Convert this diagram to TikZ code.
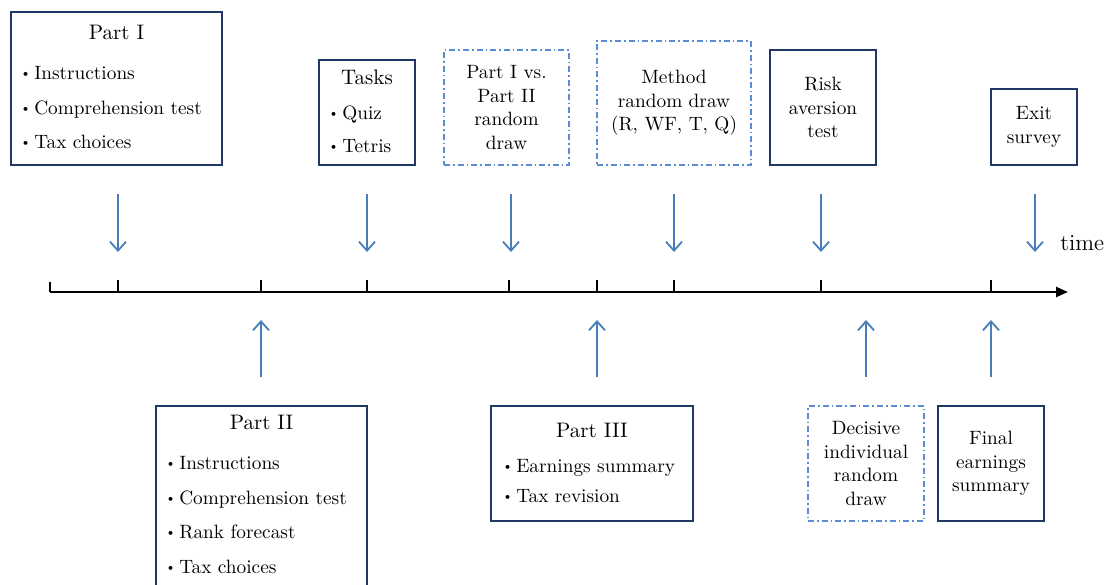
\documentclass[tikz,border=0pt]{standalone}
\usepackage{graphicx}
\usetikzlibrary{arrows.meta}
\definecolor{navy}{HTML}{203864}
\definecolor{arrblue}{HTML}{4A7EBB}
\definecolor{dashblue}{HTML}{5B8DD6}
\newcommand{\mybul}{\raisebox{0.7pt}{\scalebox{0.7}{\textbullet}}\hspace{1.7pt}}
\tikzset{
  every node/.style={font=\fontsize{9.65}{11.75}\selectfont, inner sep=0pt},
  box/.style={draw=navy, line width=0.9pt, align=center},
  dbox/.style={draw=dashblue, line width=0.8pt, align=center,
    dash pattern=on 3pt off 1.5pt on 0.8pt off 1.5pt},
  txt/.style={anchor=base west},
  ttl/.style={anchor=base, font=\fontsize{10.5}{12.5}\selectfont},
  darr/.style={draw=arrblue, line width=0.9pt, -{Straight Barb[length=4.5pt,width=8pt,line width=0.9pt]}},
  tick/.style={draw=black, line width=0.9pt},
}
\begin{document}
\begin{tikzpicture}[x=0.5pt,y=-0.5pt]
\useasboundingbox (0,0) rectangle (1106,584);
\begin{scope}
\clip (0,0) rectangle (1106,584);
% top boxes
\node[box, minimum width=105.5pt, minimum height=76.5pt] (p1) at (116.5,88.5) {};
\node[ttl] (p1t) at (116.5,39) {Part I};
\node[txt] (p1a) at (20,79) {\mybul Instructions};
\node[txt] (p1b) at (20,114) {\mybul Comprehension test};
\node[txt] (p1c) at (20,148) {\mybul Tax choices};

\node[box, minimum width=48pt, minimum height=52.5pt] (tasks) at (367,112.5) {};
\node[ttl] (tasksT) at (367,84) {Tasks};
\node[txt] (tq) at (328,119) {\mybul Quiz};
\node[txt] (tt) at (328,152) {\mybul Tetris};

\node[dbox, minimum width=62.5pt, minimum height=57.5pt] (pvp) at (506.5,107.5) {Part I vs.\\Part II\\random\\draw};
\node[dbox, minimum width=77pt, minimum height=62pt] (meth) at (674,103) {Method\\random draw\\(R, WF, T, Q)};
\node[box, minimum width=53pt, minimum height=57.5pt] (risk) at (823,107.5) {Risk\\aversion\\test};
\node[box, minimum width=43pt, minimum height=38pt] (exit) at (1034,127) {Exit\\survey};

% bottom boxes
\node[box, minimum width=105.5pt, minimum height=97pt] (p2) at (261.5,503) {};
\node[ttl] (p2t) at (261.5,429) {Part II};
\node[txt] (p2a) at (165,469) {\mybul Instructions};
\node[txt] (p2b) at (165,504) {\mybul Comprehension test};
\node[txt] (p2c) at (165,538) {\mybul Rank forecast};
\node[txt] (p2d) at (165,573) {\mybul Tax choices};

\node[box, minimum width=101pt, minimum height=57.5pt] (p3) at (592,463.5) {};
\node[ttl] (p3t) at (592,437) {Part III};
\node[txt] (p3a) at (502,472) {\mybul Earnings summary};
\node[txt] (p3b) at (502,502) {\mybul Tax revision};

\node[dbox, minimum width=58pt, minimum height=57.5pt] (dec) at (866,463.5) {Decisive\\individual\\random\\draw};
\node[box, minimum width=53pt, minimum height=57.5pt] (fin) at (991,463.5) {Final\\earnings\\summary};
\end{scope}

% timeline
\coordinate (t0) at (50,292);
\coordinate (t1) at (1068,292);
\draw[line width=1.2pt, -{Triangle[length=6pt,width=5pt]}] (t0) -- (t1);
\draw[tick] (50,281.5) -- (t0);
\foreach \x in {118,261,367,509,597,674,821,991}
  \draw[tick] (\x,280) -- (\x,292);
\node[anchor=base west, font=\fontsize{11.5}{14}\selectfont] (time) at (1060,250) {time};

% down arrows
\foreach \n/\x in {a/118,b/367,c/511,d/674,e/821,f/1035}{
  \coordinate (ds\n) at (\x,194);
  \coordinate (de\n) at (\x,252);
  \draw[darr] (ds\n) -- (de\n);
}
% up arrows
\foreach \n/\x in {a/261,b/597,c/866,d/991}{
  \coordinate (us\n) at (\x,377);
  \coordinate (ue\n) at (\x,320);
  \draw[darr] (us\n) -- (ue\n);
}
\end{tikzpicture}
\end{document}
